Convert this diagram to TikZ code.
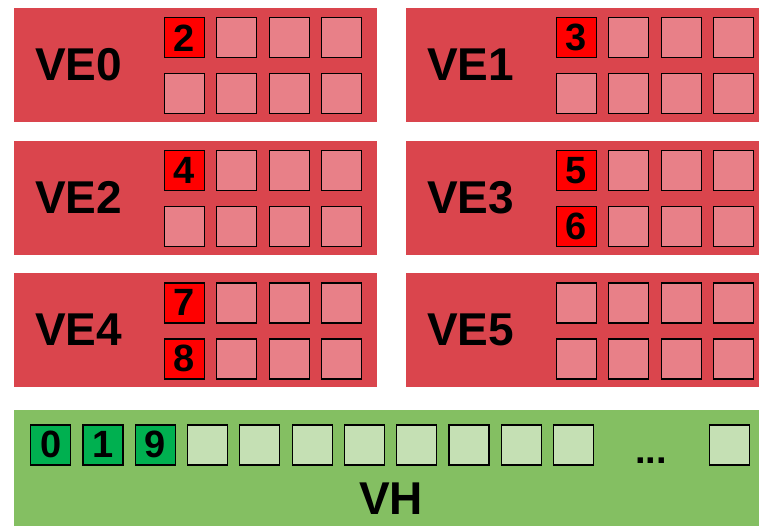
\documentclass[tikz,border=0pt]{standalone}
\usepackage{fontspec}
\setmainfont{Liberation Sans}
\definecolor{veRed}{RGB}{218,69,77}
\definecolor{vePink}{RGB}{232,128,136}
\definecolor{hotRed}{RGB}{255,0,0}
\definecolor{vhGreen}{RGB}{132,191,98}
\definecolor{vhLight}{RGB}{197,224,180}
\definecolor{vhDark}{RGB}{0,176,80}
\begin{document}
\begin{tikzpicture}[x=1pt,y=-1pt,
  vebox/.style={fill=veRed,minimum width=363pt,minimum height=114pt,inner sep=0pt,anchor=north west},
  vhbox/.style={fill=vhGreen,minimum width=754pt,minimum height=130pt,inner sep=0pt,anchor=north west},
  biglabel/.style={font=\fontsize{46}{46}\selectfont\bfseries,inner sep=0pt},
  cell/.style={draw=black,line width=1.2pt,minimum size=40pt,inner sep=0pt,font=\fontsize{38}{38}\selectfont\bfseries},
  emptycell/.style={cell,fill=vePink,anchor=north west},
  hotcell/.style={cell,fill=hotRed},
  vhcell/.style={cell,fill=vhLight,anchor=north west},
  vhhot/.style={cell,fill=vhDark},
  dots/.style={font=\fontsize{38}{38}\selectfont\bfseries,inner sep=0pt,anchor=base}]
\useasboundingbox (0,0) rectangle (759,526);
\clip (0,0) rectangle (759,526);
\fill[white] (0,0) rectangle (759,526);
\foreach \i/\bx/\by in {0/14/8,1/406/8,2/14/140.5,3/406/140.5,4/14/273,5/406/273} {
  \node[vebox] (ve\i) at (\bx,\by) {};
  \node[biglabel] (ve\i-lab) at (\bx+64.5,\by+57) {VE\i};
  \foreach \row in {0,1} {
    \foreach \col in {0,...,3} {
      \node[emptycell] (ve\i-\row-\col) at (\bx+149.7+52.4*\col,\by+9.3+56*\row) {};
    }
  }
}
\node[hotcell] (n2) at (ve0-0-0.center) {\raisebox{-2pt}{2}};
\node[hotcell] (n3) at (ve1-0-0.center) {\raisebox{-2pt}{3}};
\node[hotcell] (n4) at (ve2-0-0.center) {\raisebox{-2pt}{4}};
\node[hotcell] (n5) at (ve3-0-0.center) {\raisebox{-2pt}{5}};
\node[hotcell] (n6) at (ve3-1-0.center) {\raisebox{-2pt}{6}};
\node[hotcell] (n7) at (ve4-0-0.center) {\raisebox{-2pt}{7}};
\node[hotcell] (n8) at (ve4-1-0.center) {\raisebox{-2pt}{8}};

\node[vhbox] (vh) at (14,410) {};
\node[biglabel] (vh-lab) at (391,499) {VH};
\foreach \k in {0,...,10} {
  \node[vhcell] (vh-\k) at (30+52.3*\k,424.3) {};
}
\node[vhcell] (vh-last) at (709,424.3) {};
\node[vhhot] (v0) at (vh-0.center) {\raisebox{-1.5pt}{0}};
\node[vhhot] (v1) at (vh-1.center) {\raisebox{-1.5pt}{1}};
\node[vhhot] (v9) at (vh-2.center) {\raisebox{-1.5pt}{9}};
\node[dots] (vh-dots) at (651,463) {...};
\end{tikzpicture}
\end{document}
